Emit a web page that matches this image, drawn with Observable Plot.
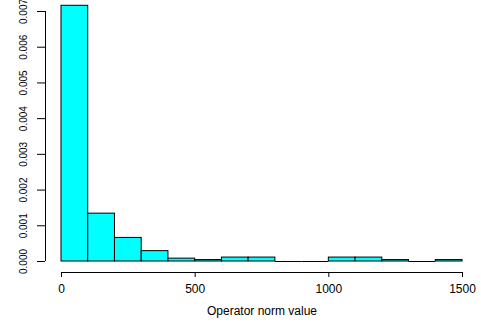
<!DOCTYPE html>
<html>
<head>
<meta charset="utf-8">
<script src="https://cdn.jsdelivr.net/npm/d3@7"></script>
<script src="https://cdn.jsdelivr.net/npm/@observablehq/plot@0.6"></script>
<style>
  html, body { margin: 0; padding: 0; background: #ffffff; }
  #chart svg { display: block; }
</style>
</head>
<body>
<div id="chart"></div>
<script>
// Histogram bin edges (Operator norm value) and densities
const binEdges = [0, 100, 200, 300, 400, 500, 600, 700, 800, 900, 1000, 1100, 1200, 1300, 1400, 1500];
const densities = [0.00716, 0.00134, 0.00066, 0.00029, 0.00008, 0.00004, 0.00011, 0.00011, 0, 0, 0.00011, 0.00011, 0.00004, 0, 0.00004];
const xTicks = [0, 500, 1000, 1500];
const yTicks = [0, 0.001, 0.002, 0.003, 0.004, 0.005, 0.006, 0.007];
const xLabel = "Operator norm value";

const bins = densities.map((d, i) => ({x0: binEdges[i], x1: binEdges[i + 1], density: d}));

const font = "'Liberation Sans', Arial, Helvetica, sans-serif";

const chart = Plot.plot({
  width: 481,
  height: 326,
  marginLeft: 61,
  marginRight: 19,
  marginTop: 11,
  marginBottom: 65,
  style: {background: "#ffffff", fontFamily: font, color: "#000", overflow: "visible"},
  x: {domain: [xTicks[0], xTicks[xTicks.length - 1]], axis: null},
  y: {domain: [yTicks[0], yTicks[yTicks.length - 1]], axis: null},
  marks: [
    Plot.rectY(bins, {x1: "x0", x2: "x1", y: "density", fill: "#00FFFF", stroke: "#000", strokeWidth: 1}),
    Plot.ruleY(bins.filter(d => d.density === 0), {x1: "x0", x2: "x1", y: "density", stroke: "#000", strokeWidth: 1}),
    // y axis
    Plot.ruleX([yTicks], {x: () => 0, y1: d => d[0], y2: d => d[d.length - 1], dx: -16, stroke: "#000"}),
    Plot.axisY(yTicks, {anchor: "left", tickSize: 8, dx: -16, tickPadding: 11, tickRotate: -90,
      tickFormat: d3.format(".3f"), fontSize: 10, label: null, stroke: "#000", fill: "#000"}),
    // x axis
    Plot.ruleY([xTicks], {y: () => 0, x1: d => d[0], x2: d => d[d.length - 1], dy: 11, stroke: "#000"}),
    Plot.axisX(xTicks, {anchor: "bottom", tickSize: 5, dy: 11, tickPadding: 7,
      tickFormat: d => String(d), fontSize: 12, label: null, stroke: "#000", fill: "#000"}),
    Plot.text([xLabel], {text: d => d, frameAnchor: "bottom", dy: 53, fontSize: 12, fill: "#000"})
  ]
});

document.getElementById("chart").appendChild(chart);
</script>
</body>
</html>
